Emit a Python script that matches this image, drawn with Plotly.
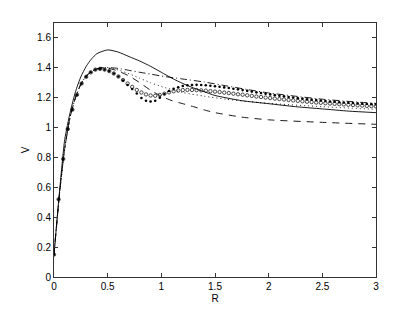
import plotly.graph_objects as go

# ---- data ----
R_solid = [0, 0.05, 0.1, 0.15, 0.2, 0.25, 0.3, 0.35, 0.4, 0.5, 0.6, 0.7, 0.8, 0.9, 1.0, 1.1,
           1.2, 1.3, 1.4, 1.5, 1.75, 2.0, 2.25, 2.5, 2.75, 3.0]
V_solid = [0.15, 0.56, 0.92, 1.10, 1.24, 1.34, 1.41, 1.46, 1.495, 1.52, 1.505, 1.475, 1.445, 1.41,
           1.37, 1.33, 1.295, 1.265, 1.24, 1.215, 1.18, 1.16, 1.14, 1.125, 1.11, 1.10]

R_dash = [0, 0.05, 0.1, 0.15, 0.2, 0.25, 0.3, 0.35, 0.4, 0.45, 0.5, 0.6, 0.7, 0.8, 0.9, 1.0,
          1.1, 1.2, 1.3, 1.4, 1.5, 1.75, 2.0, 2.5, 3.0]
V_dash = [0.15, 0.55, 0.86, 1.07, 1.20, 1.29, 1.345, 1.375, 1.393, 1.40, 1.398, 1.378, 1.345,
          1.30, 1.25, 1.21, 1.18, 1.16, 1.14, 1.118, 1.10, 1.07, 1.052, 1.035, 1.022]

R_dashdot = [0, 0.05, 0.1, 0.15, 0.2, 0.25, 0.3, 0.35, 0.4, 0.45, 0.5, 0.6, 0.7, 0.8, 0.9, 1.0,
             1.2, 1.4, 1.6, 1.8, 2.0, 2.25, 2.5, 2.75, 3.0]
V_dashdot = [0.15, 0.55, 0.86, 1.07, 1.20, 1.29, 1.345, 1.375, 1.393, 1.40, 1.402, 1.396, 1.383,
             1.37, 1.358, 1.345, 1.325, 1.305, 1.28, 1.255, 1.232, 1.21, 1.19, 1.175, 1.162]

R_dot = [0, 0.05, 0.1, 0.15, 0.2, 0.25, 0.3, 0.35, 0.4, 0.45, 0.5, 0.6, 0.7, 0.8, 0.9, 1.0,
         1.2, 1.4, 1.6, 1.8, 2.0, 2.5, 3.0]
V_dot = [0.15, 0.55, 0.86, 1.07, 1.20, 1.29, 1.345, 1.375, 1.393, 1.40, 1.40, 1.385, 1.36,
         1.33, 1.30, 1.275, 1.235, 1.21, 1.19, 1.175, 1.162, 1.14, 1.122]

R_mark = [round(k * 3 / 70, 5) for k in range(71)]
V_filled = [0.15, 0.52, 0.79, 0.99, 1.12, 1.22, 1.295, 1.34, 1.37, 1.388,
            1.393, 1.388, 1.378, 1.362, 1.342, 1.315, 1.285, 1.258, 1.228, 1.198,
            1.18, 1.175, 1.18, 1.20, 1.225, 1.245, 1.26, 1.27, 1.278, 1.283,
            1.285, 1.286, 1.285, 1.283, 1.28, 1.277, 1.273, 1.269, 1.265, 1.26,
            1.256, 1.251, 1.246, 1.241, 1.236, 1.231, 1.226, 1.222, 1.217, 1.213,
            1.209, 1.205, 1.201, 1.197, 1.194, 1.19, 1.187, 1.184, 1.181, 1.178,
            1.175, 1.173, 1.17, 1.168, 1.166, 1.164, 1.162, 1.16, 1.158, 1.157,
            1.156]
V_open = [0.15, 0.52, 0.79, 0.99, 1.12, 1.22, 1.295, 1.34, 1.37, 1.388,
          1.393, 1.388, 1.378, 1.362, 1.342, 1.318, 1.295, 1.272, 1.252, 1.235,
          1.222, 1.215, 1.213, 1.218, 1.227, 1.236, 1.243, 1.248, 1.251, 1.252,
          1.252, 1.251, 1.249, 1.247, 1.244, 1.241, 1.238, 1.234, 1.231, 1.227,
          1.223, 1.22, 1.216, 1.212, 1.208, 1.205, 1.201, 1.198, 1.194, 1.191,
          1.188, 1.185, 1.182, 1.179, 1.176, 1.173, 1.171, 1.168, 1.166, 1.163,
          1.161, 1.159, 1.157, 1.155, 1.153, 1.151, 1.149, 1.147, 1.145, 1.144,
          1.142]

x_ticks = [0, 0.5, 1, 1.5, 2, 2.5, 3]
x_ticklabels = ["0", "0.5", "1", "1.5", "2", "2.5", "3"]
y_ticks = [0, 0.2, 0.4, 0.6, 0.8, 1, 1.2, 1.4, 1.6]
y_ticklabels = ["0", "0.2", "0.4", "0.6", "0.8", "1", "1.2", "1.4", "1.6"]

# ---- figure ----
fig = go.Figure()
lw = 0.9
fig.add_trace(go.Scatter(x=R_solid, y=V_solid, mode="lines",
                         line=dict(color="black", width=lw, shape="spline", smoothing=0.6)))
fig.add_trace(go.Scatter(x=R_dash, y=V_dash, mode="lines",
                         line=dict(color="black", width=lw, dash="7px,6px", shape="spline", smoothing=0.6)))
fig.add_trace(go.Scatter(x=R_dashdot, y=V_dashdot, mode="lines",
                         line=dict(color="black", width=lw, dash="7px,3px,1px,3px", shape="spline", smoothing=0.6)))
fig.add_trace(go.Scatter(x=R_dot, y=V_dot, mode="lines",
                         line=dict(color="black", width=lw, dash="1px,3px", shape="spline", smoothing=0.6)))
fig.add_trace(go.Scatter(x=R_mark, y=V_open, mode="markers",
                         marker=dict(symbol="circle-open", size=3.4, color="black", line=dict(width=0.7))))
fig.add_trace(go.Scatter(x=R_mark, y=V_filled, mode="markers",
                         marker=dict(symbol="circle", size=2.6, color="black")))

axis_common = dict(showgrid=False, zeroline=False, showline=True, linecolor="#333", linewidth=1,
                   mirror="ticks", ticks="inside", ticklen=4, tickcolor="#333", tickwidth=1,
                   automargin=False,
                   tickfont=dict(family="Liberation Sans, Arial, sans-serif", size=10, color="black"))
fig.update_xaxes(range=[0, 3], tickvals=x_ticks, ticktext=x_ticklabels,
                 title=dict(text="R", font=dict(family="Liberation Sans, Arial", size=10, color="black"),
                            standoff=3), **axis_common)
fig.update_yaxes(range=[0, 1.7], tickvals=y_ticks, ticktext=y_ticklabels,
                 title=dict(text="V", font=dict(family="Liberation Sans, Arial", size=10, color="black"),
                            standoff=5), **axis_common)
fig.update_layout(width=407, height=304, showlegend=False,
                  margin=dict(l=46, r=39, t=15, b=35),
                  plot_bgcolor="white", paper_bgcolor="white")
fig.write_html("out.html")
